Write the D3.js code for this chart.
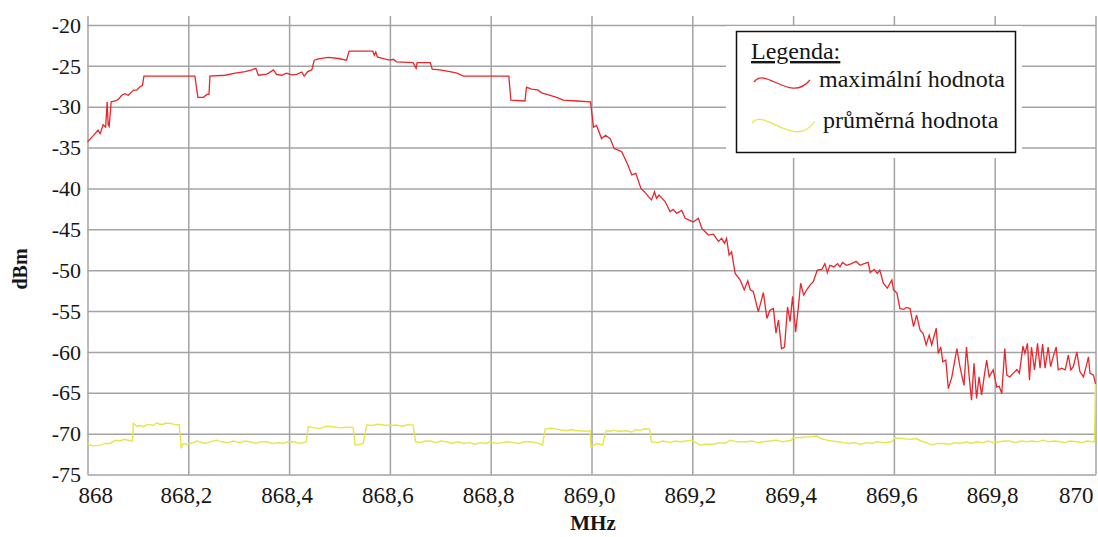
<!DOCTYPE html>
<html>
<head>
<meta charset="utf-8">
<script src="https://cdn.jsdelivr.net/npm/d3@7"></script>
<style>
body { margin: 0; background: #fff; }
text { font-family: 'Liberation Serif', 'Times New Roman', serif; fill: #161616; }
</style>
</head>
<body>
<script>
// ticks
let xTicks = [868, 868.2, 868.4, 868.6, 868.8, 869.0, 869.2, 869.4, 869.6, 869.8, 870]
let xTickLabels = ['868', '868,2', '868,4', '868,6', '868,8', '869,0', '869,2', '869,4', '869,6', '869,8', '870']
let yTicks = [-20, -25, -30, -35, -40, -45, -50, -55, -60, -65, -70, -75]

let seriesNames = ['maximální hodnota', 'průměrná hodnota']

// [MHz, dBm]
let maxHold = [
  [868.000, -34.3], [868.012, -33.5], [868.021, -32.85], [868.025, -33.3], [868.031, -32.2],
  [868.036, -32.5], [868.039, -29.4], [868.041, -32.2], [868.043, -32.4], [868.047, -29.4],
  [868.055, -29.3], [868.061, -29.1], [868.068, -28.6], [868.074, -28.4], [868.081, -28.6],
  [868.091, -28.0], [868.098, -27.95], [868.104, -27.55], [868.109, -27.4], [868.112, -26.25],
  [868.213, -26.25], [868.219, -28.85], [868.230, -28.85], [868.237, -28.5], [868.241, -28.5],
  [868.243, -26.25], [868.273, -26.15], [868.293, -25.9], [868.313, -25.7], [868.326, -25.5],
  [868.334, -25.3], [868.339, -26.15], [868.356, -26.0], [868.369, -25.5], [868.375, -26.05],
  [868.385, -26.15], [868.395, -25.9], [868.405, -26.1], [868.415, -26.05], [868.425, -25.75],
  [868.430, -26.25], [868.437, -25.7], [868.445, -25.5], [868.450, -24.3], [868.458, -24.15],
  [868.478, -23.95], [868.498, -24.1], [868.514, -24.3], [868.519, -23.2], [868.566, -23.2],
  [868.569, -23.7], [868.572, -23.3], [868.575, -23.9], [868.587, -24.1], [868.600, -24.3],
  [868.607, -24.2], [868.613, -24.5], [868.646, -24.6], [868.652, -25.3], [868.654, -24.6],
  [868.680, -24.6], [868.684, -25.4], [868.699, -25.5], [868.719, -25.7], [868.733, -25.9],
  [868.746, -26.25], [868.836, -26.25], [868.840, -29.2], [868.868, -29.3], [868.871, -27.6],
  [868.881, -27.85], [868.893, -27.95], [868.901, -28.3], [868.918, -28.6], [868.931, -28.85],
  [868.944, -29.2], [868.971, -29.3], [868.998, -29.4], [869.004, -32.5], [869.010, -32.3],
  [869.020, -33.9], [869.028, -33.5], [869.037, -33.9], [869.045, -35.1], [869.053, -35.3],
  [869.060, -35.5], [869.072, -37.1], [869.080, -38.35], [869.088, -38.15], [869.098, -40.0],
  [869.108, -40.6], [869.113, -41.0], [869.119, -41.4], [869.125, -40.4], [869.129, -41.2],
  [869.134, -40.8], [869.146, -41.6], [869.156, -42.85], [869.162, -42.55], [869.169, -43.05],
  [869.179, -42.7], [869.186, -43.65], [869.195, -43.9], [869.202, -44.1], [869.212, -43.65],
  [869.219, -44.9], [869.232, -45.7], [869.242, -45.6], [869.252, -46.5], [869.258, -46.1],
  [869.264, -46.7], [869.268, -46.1], [869.273, -48.15], [869.278, -47.75], [869.285, -50.4],
  [869.295, -51.2], [869.303, -52.4], [869.310, -51.3], [869.315, -52.4], [869.321, -52.6],
  [869.331, -55.1], [869.341, -52.75], [869.348, -55.9], [869.354, -54.9], [869.361, -54.7],
  [869.366, -57.7], [869.371, -56.1], [869.377, -59.6], [869.383, -59.4], [869.389, -54.5],
  [869.394, -56.3], [869.399, -53.2], [869.405, -57.6], [869.410, -54.8], [869.415, -51.6],
  [869.421, -53.05], [869.427, -52.4], [869.434, -51.8], [869.440, -51.4], [869.448, -50.0],
  [869.457, -49.9], [869.463, -49.2], [869.468, -50.3], [869.473, -49.4], [869.481, -49.6],
  [869.488, -49.2], [869.493, -49.6], [869.498, -49.05], [869.506, -49.4], [869.516, -49.2],
  [869.525, -48.9], [869.533, -49.4], [869.541, -49.2], [869.549, -49.05], [869.553, -50.3],
  [869.561, -49.9], [869.567, -50.4], [869.572, -50.0], [869.579, -51.6], [869.587, -52.2],
  [869.596, -51.2], [869.599, -52.4], [869.606, -52.8], [869.612, -54.7], [869.620, -54.8],
  [869.625, -54.55], [869.632, -54.7], [869.639, -56.9], [869.645, -55.5], [869.652, -57.35],
  [869.658, -57.75], [869.664, -59.15], [869.670, -57.95], [869.675, -59.15], [869.684, -57.1],
  [869.688, -60.2], [869.693, -59.4], [869.697, -61.2], [869.703, -61.0], [869.708, -64.5],
  [869.715, -63.05], [869.725, -59.6], [869.731, -61.8], [869.739, -64.1], [869.744, -59.4],
  [869.751, -64.1], [869.754, -65.9], [869.759, -61.4], [869.764, -65.7], [869.769, -63.05],
  [869.774, -65.3], [869.779, -63.05], [869.784, -61.0], [869.789, -63.05], [869.797, -62.2],
  [869.804, -64.3], [869.809, -64.2], [869.814, -65.1], [869.820, -59.6], [869.824, -62.85],
  [869.830, -63.05], [869.837, -62.6], [869.844, -62.15], [869.849, -62.6], [869.856, -59.3],
  [869.860, -60.2], [869.865, -58.95], [869.869, -63.45], [869.873, -59.4], [869.879, -62.2],
  [869.885, -58.95], [869.890, -62.0], [869.895, -59.05], [869.900, -62.0], [869.906, -59.4],
  [869.911, -61.8], [869.916, -60.6], [869.922, -59.4], [869.926, -62.2], [869.933, -62.0],
  [869.940, -62.2], [869.946, -60.4], [869.951, -62.2], [869.956, -61.8], [869.963, -60.0],
  [869.969, -62.4], [869.976, -63.05], [869.983, -61.4], [869.986, -60.6], [869.989, -62.6],
  [869.996, -62.85], [870.000, -63.9]
]

let average = [
  [868.000, -71.3], [868.011, -71.5], [868.025, -71.4], [868.035, -71.2], [868.045, -71.2],
  [868.055, -70.8], [868.064, -70.9], [868.074, -70.7], [868.084, -70.9], [868.089, -70.9],
  [868.091, -68.75], [868.098, -69.1], [868.104, -69.0], [868.111, -69.15], [868.118, -68.9],
  [868.124, -68.9], [868.130, -69.0], [868.137, -68.7], [868.144, -68.85], [868.150, -68.85],
  [868.156, -68.7], [868.164, -68.75], [868.174, -68.9], [868.182, -68.9], [868.186, -71.8],
  [868.190, -71.2], [868.199, -71.3], [868.210, -71.1], [868.217, -70.9], [868.223, -71.0],
  [868.233, -71.2], [868.243, -71.0], [868.256, -70.8], [868.267, -71.0], [868.279, -71.1],
  [868.289, -70.9], [868.303, -71.1], [868.312, -70.9], [868.322, -71.0], [868.334, -71.2],
  [868.344, -71.0], [868.356, -71.0], [868.366, -71.2], [868.378, -71.1], [868.388, -71.2],
  [868.398, -71.0], [868.408, -71.0], [868.422, -71.2], [868.434, -71.0], [868.438, -69.15],
  [868.449, -69.3], [868.461, -69.35], [868.473, -69.1], [868.488, -69.15], [868.501, -69.3],
  [868.515, -69.2], [868.527, -69.25], [868.531, -71.4], [868.541, -71.3], [868.547, -71.2],
  [868.554, -68.95], [868.564, -69.0], [868.576, -68.85], [868.587, -68.95], [868.600, -69.0],
  [868.613, -68.95], [868.624, -69.1], [868.636, -68.9], [868.646, -68.95], [868.651, -71.0],
  [868.660, -71.1], [868.670, -70.9], [868.680, -70.9], [868.691, -71.1], [868.701, -70.9],
  [868.713, -71.0], [868.723, -71.2], [868.735, -71.0], [868.746, -71.2], [868.759, -71.1],
  [868.769, -71.3], [868.779, -71.1], [868.791, -71.2], [868.799, -71.0], [868.812, -71.2],
  [868.822, -71.1], [868.834, -71.0], [868.845, -71.1], [868.856, -71.2], [868.866, -71.0],
  [868.878, -71.0], [868.890, -71.1], [868.903, -71.4], [868.908, -69.45], [868.918, -69.35],
  [868.931, -69.45], [868.939, -69.55], [868.951, -69.65], [868.961, -69.5], [868.969, -69.65],
  [868.977, -69.65], [868.987, -69.7], [868.997, -69.65], [868.999, -71.6], [869.010, -71.2],
  [869.017, -71.3], [869.022, -71.4], [869.029, -69.65], [869.037, -69.7], [869.043, -69.6],
  [869.055, -69.7], [869.070, -69.65], [869.080, -69.8], [869.088, -69.5], [869.096, -69.6],
  [869.106, -69.4], [869.115, -69.45], [869.119, -71.0], [869.130, -71.1], [869.142, -70.9],
  [869.156, -71.1], [869.166, -70.9], [869.176, -71.0], [869.187, -70.9], [869.199, -70.8],
  [869.207, -71.1], [869.215, -71.4], [869.227, -71.3], [869.242, -71.3], [869.255, -71.1],
  [869.265, -71.2], [869.275, -70.8], [869.289, -71.0], [869.308, -71.0], [869.318, -70.9],
  [869.330, -71.1], [869.341, -71.0], [869.354, -70.9], [869.367, -70.8], [869.380, -71.0],
  [869.397, -70.8], [869.400, -70.45], [869.414, -70.5], [869.424, -70.4], [869.434, -70.4],
  [869.447, -70.3], [869.455, -70.6], [869.467, -70.8], [869.477, -70.9], [869.489, -71.0],
  [869.500, -71.1], [869.513, -71.2], [869.523, -71.1], [869.533, -71.3], [869.547, -71.1],
  [869.557, -71.2], [869.566, -71.0], [869.580, -71.1], [869.596, -71.0], [869.602, -70.5],
  [869.616, -70.6], [869.632, -70.7], [869.644, -70.6], [869.654, -70.9], [869.665, -71.1],
  [869.675, -71.4], [869.686, -71.2], [869.698, -71.2], [869.711, -71.3], [869.721, -71.1],
  [869.731, -71.2], [869.745, -71.0], [869.753, -71.2], [869.764, -71.0], [869.777, -71.1],
  [869.787, -70.9], [869.797, -71.1], [869.810, -71.0], [869.820, -70.9], [869.830, -70.9],
  [869.842, -71.1], [869.852, -70.9], [869.864, -71.0], [869.874, -70.9], [869.884, -71.0],
  [869.896, -70.8], [869.908, -71.0], [869.918, -70.9], [869.930, -71.0], [869.939, -71.1],
  [869.949, -70.9], [869.963, -71.0], [869.973, -71.1], [869.983, -70.9], [869.996, -71.0],
  [869.998, -71.0], [870.000, -63.9]
]

let W = 1098
let H = 537
let GRID = '#a3a3a3'
let RED = '#e8262c'
let YELLOW = '#e6e64c'

let x = d3.scaleLinear().domain([868, 870]).range([87.5, 1095.5])
let y = d3.scaleLinear().domain([-75, -20]).range([474.5, 25])
let gridTop = 16
let gridRight = 1096

let svg = d3.select('body').append('svg')
    .attr('width', W)
    .attr('height', H)

// vertical grid
svg.append('g')
    .attr('transform', `translate(0,${y(-75)})`)
    .call(d3.axisBottom(x).tickValues(xTicks).tickSize(-(y(-75) - gridTop)).tickFormat(''))
    .call(g => g.select('.domain').remove())
    .selectAll('line')
    .attr('stroke', GRID)
    .attr('stroke-width', 1.5)

// horizontal grid
svg.append('g')
    .attr('transform', `translate(${x(868)},0)`)
    .call(d3.axisLeft(y).tickValues(yTicks).tickSize(-(gridRight - x(868))).tickFormat(''))
    .call(g => g.select('.domain').remove())
    .selectAll('line')
    .attr('stroke', GRID)
    .attr('stroke-width', 1.5)

// y tick labels
svg.selectAll('.ylab')
    .data(yTicks)
    .join('text')
    .attr('class', 'ylab')
    .attr('x', 81)
    .attr('y', d => y(d))
    .attr('dy', '0.35em')
    .attr('text-anchor', 'end')
    .style('font-size', '22px')
    .text(d => String(d))

// x tick labels
svg.selectAll('.xlab')
    .data(xTicks)
    .join('text')
    .attr('class', 'xlab')
    .attr('x', (d, i) => i == 0 ? x(d) - 9 : x(d) - 2)
    .attr('y', 503)
    .attr('text-anchor', (d, i) => i == 0 ? 'start' : (i == xTicks.length - 1 ? 'end' : 'middle'))
    .style('font-size', '23px')
    .text((d, i) => xTickLabels[i])

// axis titles
svg.append('text')
    .attr('transform', `translate(27,269) rotate(-90)`)
    .attr('text-anchor', 'middle')
    .style('font-size', '20px')
    .style('font-weight', 'bold')
    .text('dBm')

svg.append('text')
    .attr('x', 593)
    .attr('y', 530)
    .attr('text-anchor', 'middle')
    .style('font-size', '21px')
    .style('font-weight', 'bold')
    .text('MHz')

// lines
let line = d3.line().x(d => x(d[0])).y(d => y(d[1]))

svg.append('path')
    .datum(average)
    .attr('d', line)
    .attr('fill', 'none')
    .attr('stroke', YELLOW)
    .attr('stroke-width', 1.4)

svg.append('path')
    .datum(maxHold)
    .attr('d', line)
    .attr('fill', 'none')
    .attr('stroke', RED)
    .attr('stroke-width', 1.3)

// legend
let lg = svg.append('g').attr('transform', 'translate(736,31)')

lg.append('rect')
    .attr('x', -10).attr('y', -5)
    .attr('width', 296).attr('height', 132)
    .attr('fill', '#fff')

lg.append('rect')
    .attr('x', 0.5).attr('y', 0.5)
    .attr('width', 279).attr('height', 121)
    .attr('fill', '#fff')
    .attr('stroke', '#111')
    .attr('stroke-width', 1.5)

lg.append('text')
    .attr('x', 15)
    .attr('y', 28)
    .style('font-size', '24px')
    .style('text-decoration', 'underline')
    .text('Legenda:')

let swatchColors = [RED, YELLOW]
let rowY = [50, 91]
let textX = [83, 87]

seriesNames.forEach((name, i) => {
    let g = lg.append('g').attr('transform', `translate(0,${rowY[i]})`)
    g.append('path')
        .attr('d', i == 0 ? 'M18,1 C30,-15 54,23 74,-1' : 'M16,1 C28,-15 59,29 79,-1')
        .attr('fill', 'none')
        .attr('stroke', swatchColors[i])
        .attr('stroke-width', 1.3)
    g.append('text')
        .attr('x', textX[i])
        .attr('y', 6)
        .style('font-size', '24px')
        .text(name)
})
</script>
</body>
</html>
